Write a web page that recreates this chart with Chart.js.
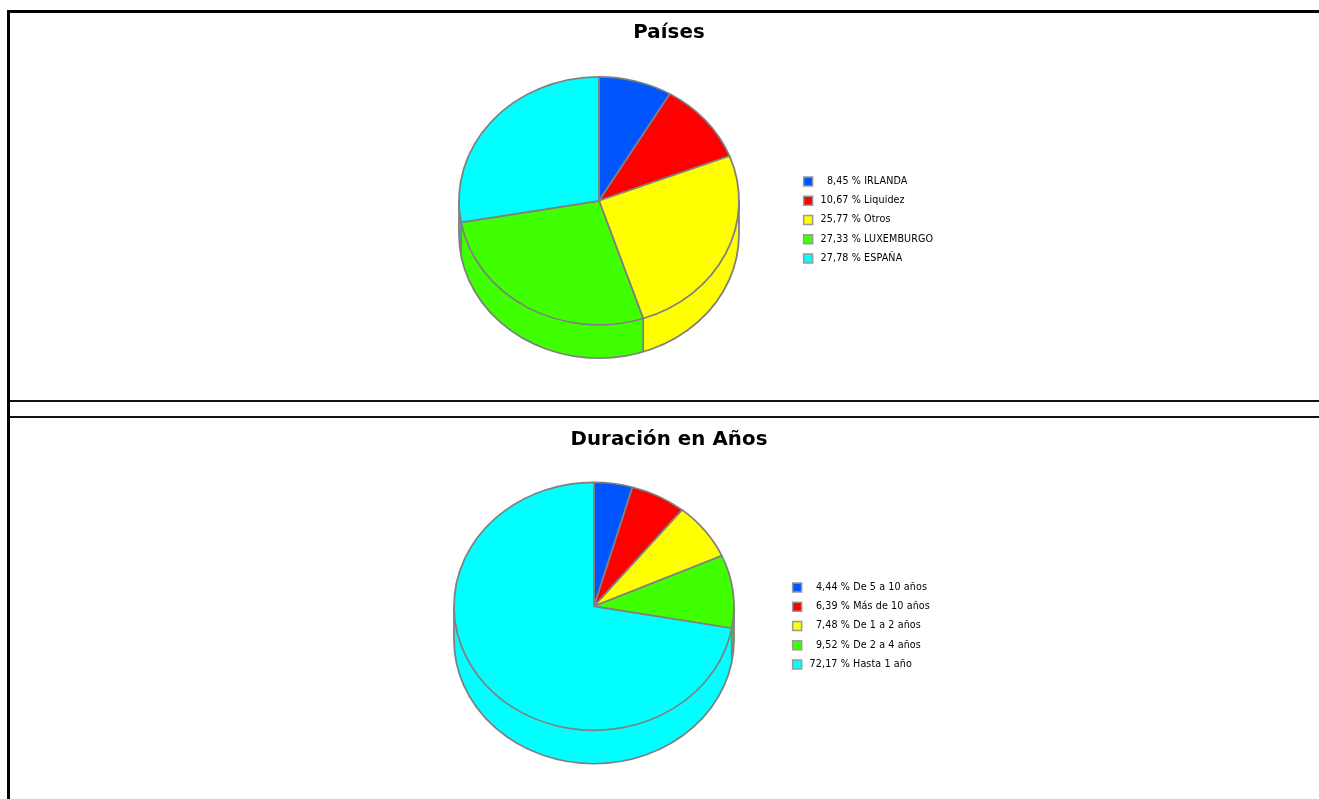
<!DOCTYPE html>
<html>
<head>
<meta charset="utf-8">
<title>Países / Duración en Años</title>
<script src="https://cdn.jsdelivr.net/npm/chart.js@4"></script>
<style>
  html, body { margin: 0; padding: 0; background: #fff; overflow: hidden; width: 1319px; height: 799px; }
  .line { position: absolute; background: #000; }
  canvas { position: absolute; }
</style>
</head>
<body>
<div class="line" style="left:7px;top:10px;width:1312px;height:3px"></div>
<div class="line" style="left:7px;top:10px;width:3px;height:789px"></div>
<div class="line" style="left:10px;top:400px;width:1309px;height:2px;background:#111"></div>
<div class="line" style="left:10px;top:416px;width:1309px;height:2px;background:#111"></div>
<canvas id="paises" width="1320" height="388" style="left:9px;top:13px"></canvas>
<canvas id="duracion" width="1320" height="381" style="left:9px;top:418px"></canvas>
<script>
var colores = ['#0055ff', '#ff0000', '#ffff00', '#40ff00', '#00ffff'];
var gris = '#808080';

var paisesLabels = ['IRLANDA', 'Liquidez', 'Otros', 'LUXEMBURGO', 'ESPAÑA'];
var paisesValues = [8.45, 10.67, 25.77, 27.33, 27.78];

var duracionLabels = ['De 5 a 10 años', 'Más de 10 años', 'De 1 a 2 años', 'De 2 a 4 años', 'Hasta 1 año'];
var duracionValues = [4.44, 6.39, 7.48, 9.52, 72.17];

// la libreria no tiene tarta 3D: se aplasta el circulo y se apilan copias hacia abajo
var aplastar = 124 / 140;
var fondo = 37.7;

var pie3d = {
  id: 'pie3d',
  beforeDraw: function(chart) {
    chart.ctx.letterSpacing = chart.options.plugins.pie3d.spacing;
  },
  afterLayout: function(chart, args, opts) {
    // el titulo va centrado en todo el canvas y la leyenda a un lado de la tarta
    chart.titleBlock.left = 0;
    chart.titleBlock.right = chart.width;
    var l = chart.legend;
    var w = l.width, h = l.height;
    l.left = opts.legendX;
    l.top = opts.legendY;
    l.right = l.left + w;
    l.bottom = l.top + h + 20;
  },
  beforeDatasetsDraw: function(chart) {
    var ctx = chart.ctx;
    var arcs = chart.getDatasetMeta(0).data;
    var cx = arcs[0].x, cy = arcs[0].y, r = arcs[0].outerRadius;

    ctx.save();
    ctx.translate(cx, cy);
    ctx.scale(1, aplastar);
    ctx.translate(-cx, -cy);

    // lateral
    for (var d = fondo; d > 0; d--) {
      ctx.save();
      ctx.translate(0, d);
      arcs.forEach(function(arc) {
        var o = arc.options;
        arc.options = Object.assign({}, o, { borderWidth: 0 });
        arc.draw(ctx);
        arc.options = o;
      });
      ctx.restore();
    }

    // contorno del lateral
    ctx.strokeStyle = gris;
    ctx.lineWidth = 1.8;
    ctx.beginPath();
    ctx.arc(cx, cy + fondo, r, 0, Math.PI);
    ctx.moveTo(cx - r, cy);
    ctx.lineTo(cx - r, cy + fondo);
    ctx.moveTo(cx + r, cy);
    ctx.lineTo(cx + r, cy + fondo);
    arcs.forEach(function(arc) {
      if (Math.sin(arc.endAngle) > 0) {
        var x = cx + r * Math.cos(arc.endAngle);
        var y = cy + r * Math.sin(arc.endAngle);
        ctx.moveTo(x, y);
        ctx.lineTo(x, y + fondo);
      }
    });
    ctx.stroke();
  },
  afterDatasetsDraw: function(chart) {
    chart.ctx.restore();
  }
};

function texto(value, label) {
  var num = value.toFixed(2).replace('.', ',');
  var relleno = num.length < 5 ? '  ' : '';
  return ' ' + relleno + num + ' % ' + label;
}

function tarta(id, titulo, labels, values, padRight, padBottom, titleTop, legendX, legendY) {
  return new Chart(document.getElementById(id), {
    type: 'pie',
    data: {
      labels: labels,
      datasets: [{
        data: values,
        backgroundColor: colores,
        borderColor: gris,
        borderWidth: 1.8,
        clip: false
      }]
    },
    plugins: [pie3d],
    options: {
      responsive: false,
      animation: false,
      radius: 140,
      layout: { padding: { right: padRight, bottom: padBottom } },
      plugins: {
        tooltip: { enabled: false },
        title: {
          display: true,
          text: titulo,
          color: '#000',
          font: { family: '"DejaVu Sans"', size: 19.75, weight: 'bold' },
          padding: { top: titleTop, bottom: 0 }
        },
        legend: {
          position: 'chartArea',
          align: 'start',
          padding: 0,
          labels: {
            boxWidth: 9,
            boxHeight: 9,
            padding: 9.65,
            color: '#000',
            font: { family: '"DejaVu Sans"', size: 9.6 },
            generateLabels: function(chart) {
              return labels.map(function(label, i) {
                return {
                  text: texto(values[i], label),
                  fillStyle: colores[i],
                  strokeStyle: '#999',
                  lineWidth: 1.5,
                  index: i
                };
              });
            }
          }
        },
        pie3d: { spacing: '0.1px', legendX: legendX, legendY: legendY }
      }
    }
  });
}

tarta('paises', 'Países', paisesLabels, paisesValues, 140, 44, 8, 785, 154);
tarta('duracion', 'Duración en Años', duracionLabels, duracionValues, 150, 38, 10, 774, 155);
</script>
</body>
</html>
